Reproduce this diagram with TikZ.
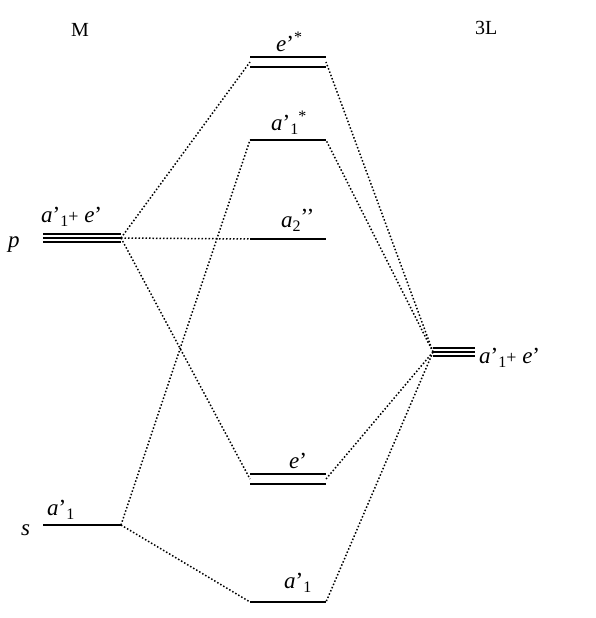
\documentclass[tikz,border=0pt]{standalone}
\usepackage{fontspec}
\setmainfont{Liberation Serif}
\newcommand\Lf{\fontsize{23}{26}\selectfont}
\newcommand\Sf{\fontsize{16}{18}\selectfont}
\newcommand\Pf{\fontsize{18}{20}\selectfont}
\newcommand\Mf{\fontsize{20}{23}\selectfont}
\newcommand\dn[1]{\raisebox{-4.5pt}{\Sf #1}}
\newcommand\up[1]{\raisebox{9pt}{\Sf #1}}
\begin{document}
\begin{tikzpicture}[x=1pt,y=-1pt,
  level/.style={line width=1.9pt},
  conn/.style={line width=1.5pt, dash pattern=on 1.5pt off 2pt},
  lbl/.style={font=\Lf, inner sep=0pt, anchor=base west},
  ttl/.style={font=\Mf, inner sep=0pt, anchor=base west}]
\useasboundingbox (0,0) rectangle (595,618);
% coordinates of level ends
\coordinate (pL) at (43,238); \coordinate (pR) at (121,238);
\coordinate (sL) at (43,525); \coordinate (sR) at (121,525);
\coordinate (esL) at (250,62); \coordinate (esR) at (326,62);
\coordinate (asL) at (250,140); \coordinate (asR) at (326,140);
\coordinate (a2L) at (250,239); \coordinate (a2R) at (326,239);
\coordinate (eL) at (250,479); \coordinate (eR) at (326,479);
\coordinate (a1L) at (250,602); \coordinate (a1R) at (326,602);
\coordinate (LL) at (433,352); \coordinate (LR) at (475,352);
% levels
\draw[level] ([yshift=-3.8pt]pL) -- ([yshift=-3.8pt]pR);
\draw[level] (pL) -- (pR);
\draw[level] ([yshift=3.6pt]pL) -- ([yshift=3.6pt]pR);
\draw[level] (sL) -- (sR);
\draw[level] ([yshift=-4.8pt]esL) -- ([yshift=-4.8pt]esR);
\draw[level] ([yshift=4.8pt]esL) -- ([yshift=4.8pt]esR);
\draw[level] (asL) -- (asR);
\draw[level] (a2L) -- (a2R);
\draw[level] ([yshift=-5pt]eL) -- ([yshift=-5pt]eR);
\draw[level] ([yshift=5pt]eL) -- ([yshift=5pt]eR);
\draw[level] (a1L) -- (a1R);
\draw[level] ([yshift=-4pt]LL) -- ([yshift=-4pt]LR);
\draw[level] (LL) -- (LR);
\draw[level] ([yshift=4.2pt]LL) -- ([yshift=4.2pt]LR);
% connectors
\draw[conn] (pR) -- (esL);
\draw[conn] (pR) -- (a2L);
\draw[conn] (pR) -- (eL);
\draw[conn] (sR) -- (asL);
\draw[conn] (sR) -- (a1L);
\draw[conn] (LL) -- (esR);
\draw[conn] (LL) -- (asR);
\draw[conn] (LL) -- (eR);
\draw[conn] (LL) -- (a1R);
% labels
\node[ttl] (tM) at (71,37) {M};
\node[ttl] (tL) at (475,35) {3L};
\node[lbl] (tp) at (8,247) {\textit{p}};
\node[lbl] (ts) at (21,535) {\textit{s}};
\node[lbl] (lp) at (41,222) {\textit{a}’\dn{1}{\Pf+} \textit{e}’};
\node[lbl] (les) at (276,52) {\textit{e}’\up{*}};
\node[lbl] (las) at (271,130) {\textit{a}’\dn{1}\up{*}};
\node[lbl] (la2) at (281,227) {\textit{a}\dn{2}\raisebox{3pt}{’’}};
\node[lbl] (lL) at (479,363) {\textit{a}’\dn{1}{\Pf+} \textit{e}’};
\node[lbl] (le) at (289,468) {\textit{e}’};
\node[lbl] (ls) at (47,515) {\textit{a}’\dn{1}};
\node[lbl] (la1) at (284,588) {\textit{a}’\dn{1}};
\end{tikzpicture}
\end{document}
